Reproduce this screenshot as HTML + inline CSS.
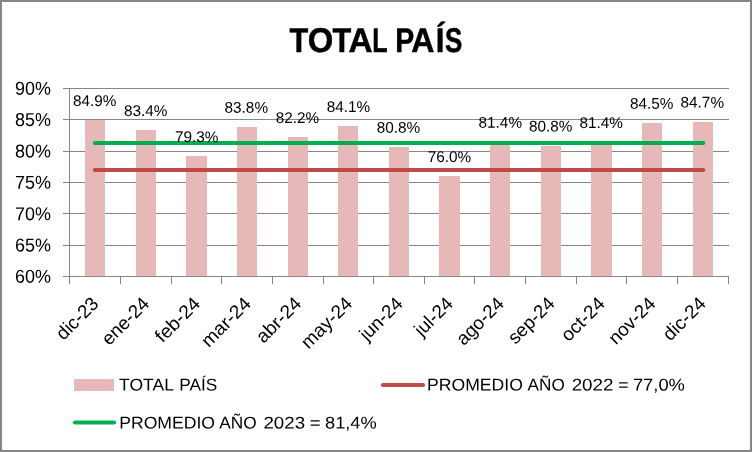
<!DOCTYPE html>
<html><head><meta charset="utf-8"><title>TOTAL PAÍS</title>
<style>
html,body{margin:0;padding:0;background:#fff;}
body{width:752px;height:452px;overflow:hidden;}
svg{display:block;font-family:"Liberation Sans",sans-serif;will-change:transform;}
</style></head><body>
<svg width="752" height="452" viewBox="0 0 752 452">
<rect x="0" y="0" width="752" height="452" fill="#fff"/>
<rect x="1" y="1" width="750" height="450" fill="none" stroke="#868686" stroke-width="2"/>
<rect x="63" y="276" width="666" height="1" fill="#868686"/>
<rect x="63" y="245" width="666" height="1" fill="#868686"/>
<rect x="63" y="213" width="666" height="1" fill="#868686"/>
<rect x="63" y="182" width="666" height="1" fill="#868686"/>
<rect x="63" y="151" width="666" height="1" fill="#868686"/>
<rect x="63" y="119" width="666" height="1" fill="#868686"/>
<rect x="63" y="88" width="666" height="1" fill="#868686"/>
<rect x="69" y="88" width="1" height="189" fill="#868686"/>
<rect x="69" y="276" width="1" height="8" fill="#868686"/>
<rect x="120" y="276" width="1" height="8" fill="#868686"/>
<rect x="171" y="276" width="1" height="8" fill="#868686"/>
<rect x="221" y="276" width="1" height="8" fill="#868686"/>
<rect x="272" y="276" width="1" height="8" fill="#868686"/>
<rect x="323" y="276" width="1" height="8" fill="#868686"/>
<rect x="373" y="276" width="1" height="8" fill="#868686"/>
<rect x="424" y="276" width="1" height="8" fill="#868686"/>
<rect x="474" y="276" width="1" height="8" fill="#868686"/>
<rect x="525" y="276" width="1" height="8" fill="#868686"/>
<rect x="576" y="276" width="1" height="8" fill="#868686"/>
<rect x="626" y="276" width="1" height="8" fill="#868686"/>
<rect x="677" y="276" width="1" height="8" fill="#868686"/>
<rect x="728" y="276" width="1" height="8" fill="#868686"/>
<rect x="85" y="120" width="20" height="156" fill="#E6B8B7"/>
<rect x="136" y="130" width="20" height="146" fill="#E6B8B7"/>
<rect x="186" y="156" width="21" height="120" fill="#E6B8B7"/>
<rect x="237" y="127" width="20" height="149" fill="#E6B8B7"/>
<rect x="288" y="137" width="20" height="139" fill="#E6B8B7"/>
<rect x="338" y="126" width="20" height="150" fill="#E6B8B7"/>
<rect x="389" y="147" width="20" height="129" fill="#E6B8B7"/>
<rect x="439" y="176" width="21" height="100" fill="#E6B8B7"/>
<rect x="490" y="142" width="20" height="134" fill="#E6B8B7"/>
<rect x="541" y="146" width="20" height="130" fill="#E6B8B7"/>
<rect x="591" y="142" width="21" height="134" fill="#E6B8B7"/>
<rect x="642" y="123" width="20" height="153" fill="#E6B8B7"/>
<rect x="693" y="122" width="20" height="154" fill="#E6B8B7"/>
<rect x="63" y="276" width="666" height="1" fill="#868686"/>
<line x1="94.8" y1="143" x2="703.2" y2="143" stroke="#00B050" stroke-width="4.2" stroke-linecap="round"/>
<line x1="94.8" y1="170" x2="703.2" y2="170" stroke="#BE4B48" stroke-width="4.2" stroke-linecap="round"/>
<text transform="translate(15.00 282.85) rotate(0.05) scale(0.9606 1)" font-size="18.7">60%</text>
<text transform="translate(15.00 251.50) rotate(0.05) scale(0.9606 1)" font-size="18.7">65%</text>
<text transform="translate(15.00 220.15) rotate(0.05) scale(0.9606 1)" font-size="18.7">70%</text>
<text transform="translate(15.00 188.80) rotate(0.05) scale(0.9606 1)" font-size="18.7">75%</text>
<text transform="translate(15.09 157.45) rotate(0.05) scale(0.9581 1)" font-size="18.7">80%</text>
<text transform="translate(15.09 126.10) rotate(0.05) scale(0.9581 1)" font-size="18.7">85%</text>
<text transform="translate(15.09 94.75) rotate(0.05) scale(0.9581 1)" font-size="18.7">90%</text>
<text transform="translate(72.91 106.00) rotate(0.05) scale(0.9819 1)" font-size="15.6">84.9%</text>
<text transform="translate(124.01 116.00) rotate(0.05) scale(0.9819 1)" font-size="15.6">83.4%</text>
<text transform="translate(174.93 142.10) rotate(0.05) scale(0.9837 1)" font-size="15.6">79.3%</text>
<text transform="translate(224.61 112.80) rotate(0.05) scale(0.9819 1)" font-size="15.6">83.8%</text>
<text transform="translate(275.71 123.00) rotate(0.05) scale(0.9819 1)" font-size="15.6">82.2%</text>
<text transform="translate(326.71 111.90) rotate(0.05) scale(0.9819 1)" font-size="15.6">84.1%</text>
<text transform="translate(376.71 132.80) rotate(0.05) scale(0.9819 1)" font-size="15.6">80.8%</text>
<text transform="translate(427.73 162.10) rotate(0.05) scale(0.9837 1)" font-size="15.6">76.0%</text>
<text transform="translate(478.61 127.70) rotate(0.05) scale(0.9819 1)" font-size="15.6">81.4%</text>
<text transform="translate(528.91 131.50) rotate(0.05) scale(0.9819 1)" font-size="15.6">80.8%</text>
<text transform="translate(579.51 127.90) rotate(0.05) scale(0.9819 1)" font-size="15.6">81.4%</text>
<text transform="translate(629.91 108.70) rotate(0.05) scale(0.9819 1)" font-size="15.6">84.5%</text>
<text transform="translate(680.61 107.60) rotate(0.05) scale(0.9819 1)" font-size="15.6">84.7%</text>
<text transform="translate(99.7,304.8) rotate(-45) scale(1.0 1)" font-size="18.8" text-anchor="end">dic-23</text>
<text transform="translate(150.5,304.8) rotate(-45) scale(1.0 1)" font-size="18.8" text-anchor="end">ene-24</text>
<text transform="translate(201.4,304.8) rotate(-45) scale(1.03 1)" font-size="18.8" text-anchor="end">feb-24</text>
<text transform="translate(252.0,304.8) rotate(-45) scale(1.03 1)" font-size="18.8" text-anchor="end">mar-24</text>
<text transform="translate(302.6,304.8) rotate(-45) scale(1.02 1)" font-size="18.8" text-anchor="end">abr-24</text>
<text transform="translate(353.4,304.8) rotate(-45) scale(1.015 1)" font-size="18.8" text-anchor="end">may-24</text>
<text transform="translate(403.8,304.8) rotate(-45) scale(1.0 1)" font-size="18.8" text-anchor="end">jun-24</text>
<text transform="translate(454.2,304.8) rotate(-45) scale(1.0 1)" font-size="18.8" text-anchor="end">jul-24</text>
<text transform="translate(505.1,304.8) rotate(-45) scale(1.0 1)" font-size="18.8" text-anchor="end">ago-24</text>
<text transform="translate(555.7,304.8) rotate(-45) scale(0.99 1)" font-size="18.8" text-anchor="end">sep-24</text>
<text transform="translate(606.1,304.8) rotate(-45) scale(1.02 1)" font-size="18.8" text-anchor="end">oct-24</text>
<text transform="translate(656.6,304.8) rotate(-45) scale(1.0 1)" font-size="18.8" text-anchor="end">nov-24</text>
<text transform="translate(707.1,304.8) rotate(-45) scale(1.02 1)" font-size="18.8" text-anchor="end">dic-24</text>
<text transform="translate(289.39 52.10) rotate(0.05) scale(0.8944 1)" font-size="34.3" font-weight="bold" stroke="#000" stroke-width="0.5">T</text>
<text transform="translate(307.69 52.10) rotate(0.05) scale(0.9564 1)" font-size="34.3" font-weight="bold" stroke="#000" stroke-width="0.5">O</text>
<text transform="translate(332.49 52.10) rotate(0.05) scale(0.8944 1)" font-size="34.3" font-weight="bold" stroke="#000" stroke-width="0.5">T</text>
<text transform="translate(348.47 52.10) rotate(0.05) scale(0.9704 1)" font-size="34.3" font-weight="bold" stroke="#000" stroke-width="0.5">A</text>
<text transform="translate(372.27 52.10) rotate(0.05) scale(0.7303 1)" font-size="34.3" font-weight="bold" stroke="#000" stroke-width="0.5">L</text>
<text transform="translate(395.35 52.10) rotate(0.05) scale(0.8286 1)" font-size="34.3" font-weight="bold" stroke="#000" stroke-width="0.5">P</text>
<text transform="translate(411.30 52.10) rotate(0.05) scale(0.9356 1)" font-size="34.3" font-weight="bold" stroke="#000" stroke-width="0.5">A</text>
<text transform="translate(435.84 52.10) rotate(0.05) scale(0.9096 1)" font-size="34.3" font-weight="bold" stroke="#000" stroke-width="0.5">Í</text>
<text transform="translate(444.92 52.10) rotate(0.05) scale(0.7580 1)" font-size="34.3" font-weight="bold" stroke="#000" stroke-width="0.5">S</text>
<rect x="74" y="379" width="40" height="12" fill="#E6B8B7"/>
<text transform="translate(119.06 390.40) rotate(0.05) scale(1.0308 1)" font-size="17.0">TOTAL</text>
<text transform="translate(179.32 390.40) rotate(0.05) scale(1.0153 1)" font-size="17.0">PAÍS</text>
<line x1="383" y1="385" x2="423" y2="385" stroke="#BE4B48" stroke-width="4.2" stroke-linecap="round"/>
<text transform="translate(426.99 390.40) rotate(0.05) scale(1.0370 1)" font-size="17.0">PROMEDIO</text>
<text transform="translate(527.61 390.40) rotate(0.05) scale(1.0096 1)" font-size="17.0">AÑO</text>
<text transform="translate(571.66 390.40) rotate(0.05) scale(1.1045 1)" font-size="17.0">2022</text>
<text transform="translate(618.31 390.40) rotate(0.05) scale(1.0431 1)" font-size="17.0">=</text>
<text transform="translate(632.88 390.40) rotate(0.05) scale(1.0802 1)" font-size="17.0">77,0%</text>
<line x1="75" y1="422.5" x2="114" y2="422.5" stroke="#00B050" stroke-width="4.2" stroke-linecap="round"/>
<text transform="translate(119.19 428.40) rotate(0.05) scale(1.0370 1)" font-size="17.0">PROMEDIO</text>
<text transform="translate(219.21 428.40) rotate(0.05) scale(1.0152 1)" font-size="17.0">AÑO</text>
<text transform="translate(263.46 428.40) rotate(0.05) scale(1.1019 1)" font-size="17.0">2023</text>
<text transform="translate(309.87 428.40) rotate(0.05) scale(1.0916 1)" font-size="17.0">=</text>
<text transform="translate(324.98 428.40) rotate(0.05) scale(1.0740 1)" font-size="17.0">81,4%</text>
</svg></body></html>
